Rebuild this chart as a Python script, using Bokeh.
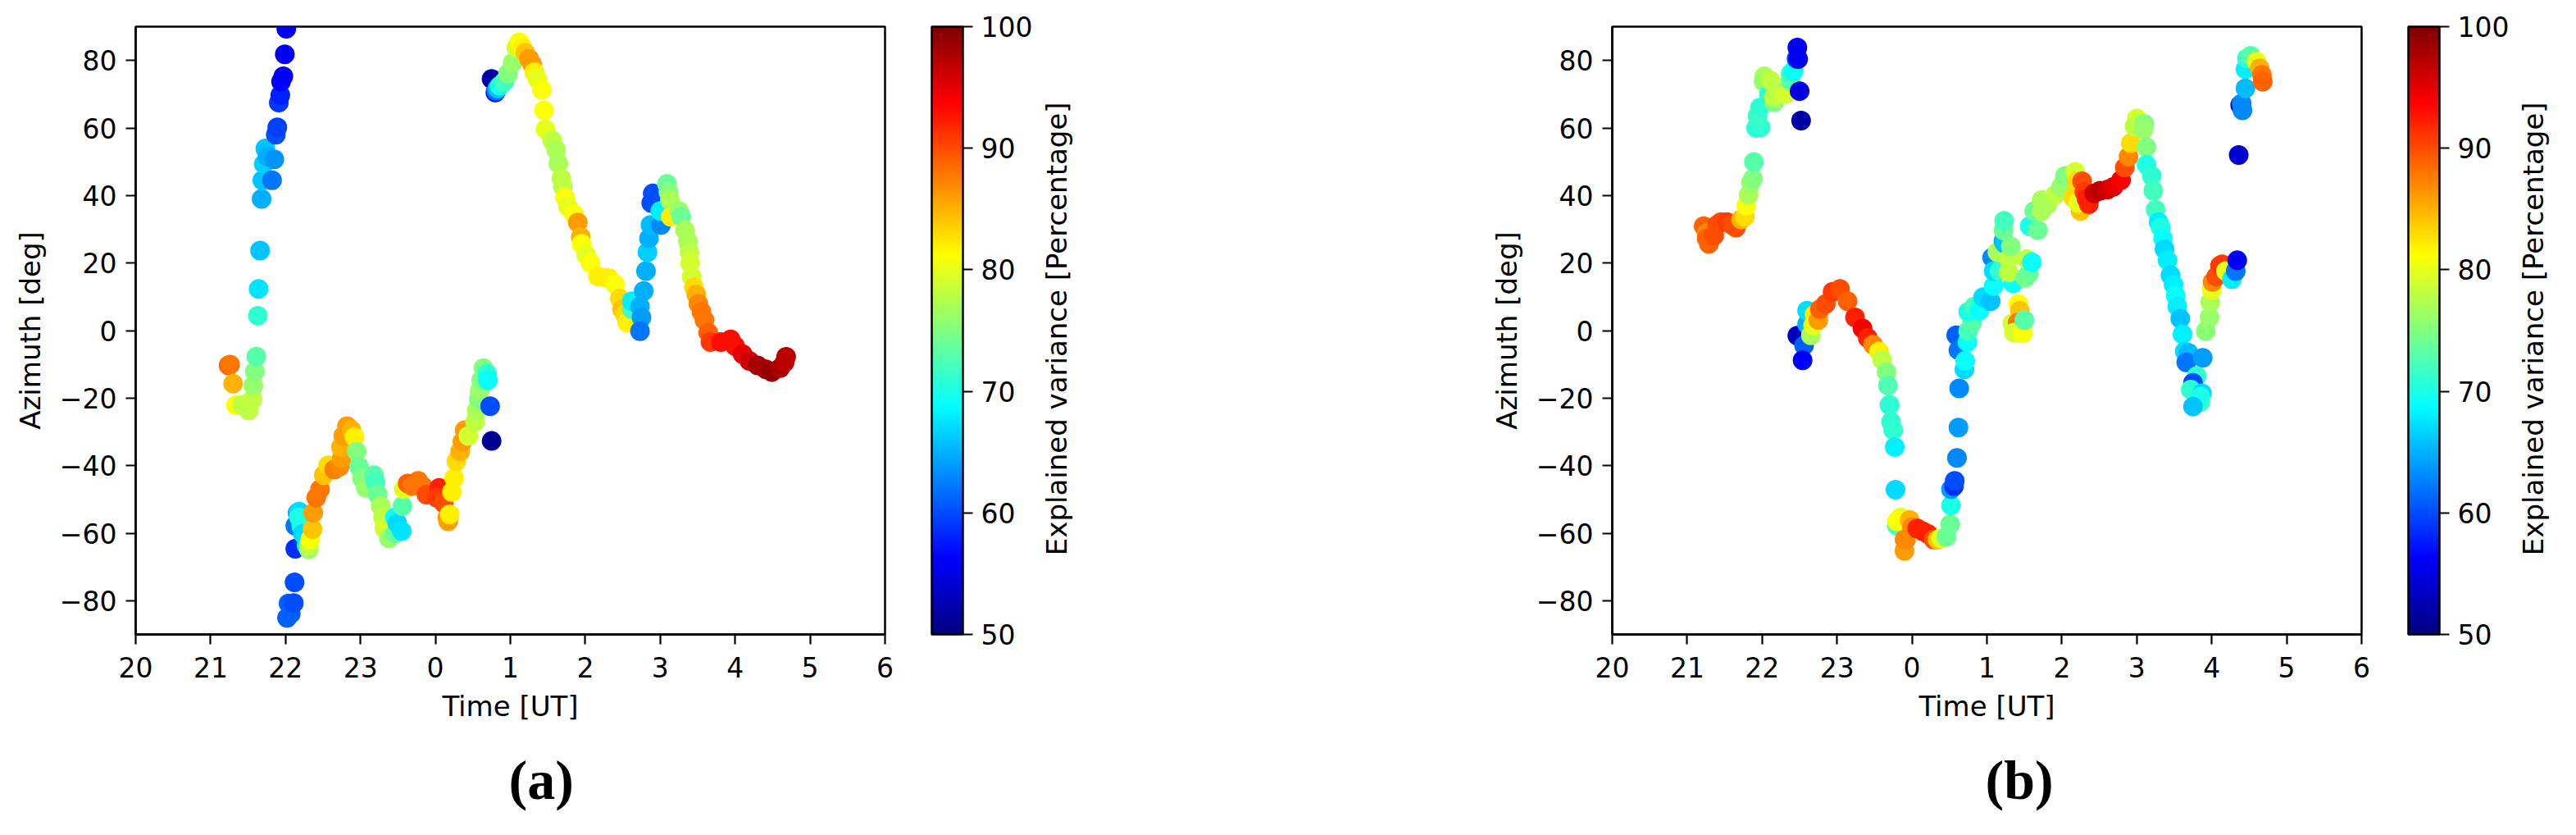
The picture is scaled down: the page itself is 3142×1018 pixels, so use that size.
import math
from bokeh.embed import file_html
from bokeh.layouts import row
from bokeh.models import ColorBar, ColumnDataSource, FixedTicker, LinearAxis, LinearColorMapper, Range1d, Title
from bokeh.plotting import figure
from bokeh.resources import INLINE

# hours relative to midnight UT
time_a = [-2.76,-2.74,-2.70,-2.66,-2.58,-2.49,-2.44,-2.43,-2.41,-2.39,-2.37,-2.36,-2.34,-2.32,-2.31,-2.29,-2.27,-2.24,-2.15,-2.18,-2.13,-2.11,-2.09,-2.07,-2.06,-2.03,-2.01,-1.99,
 -1.98,-1.93,-1.96,-1.89,-1.88,-1.87,-1.87,-1.84,-1.82,-1.82,-1.79,-1.77,-1.72,-1.69,-1.69,-1.67,-1.64,-1.63,-1.59,-1.54,-1.49,-1.43,-1.35,-1.28,-1.25,-1.26,-1.23,-1.18,-1.12,-1.08,-1.05,-1.02,-0.98,-0.93,-0.82,-0.80,-0.77,-0.73,-0.70,-0.68,-0.62,-0.54,-0.54,-0.51,-0.45,-0.44,-0.42,-0.37,-0.31,-0.23,-0.17,-0.12,0.05,0.02,0.11,0.16,0.17,0.19,0.22,0.25,0.28,0.33,0.36,0.39,0.44,0.53,0.55,0.58,0.59,0.61,0.64,0.69,0.70,0.73,0.75,
 0.75,0.80,0.81,0.83,0.86,0.92,0.97,1.03,1.08,1.12,1.16,1.20,1.25,1.29,1.32,1.36,1.42,1.45,1.47,1.56,1.61,1.64,1.68,1.70,1.73,1.77,1.85,1.90,1.94,1.95,2.01,2.07,2.17,2.28,2.31,2.40,2.46,2.49,2.53,2.56,2.62,2.62,2.73,2.75,2.73,2.78,2.81,2.83,2.85,2.87,2.88,2.90,3.01,3.00,3.09,3.11,3.13,3.14,3.25,3.28,3.33,3.37,3.39,3.40,3.42,3.45,3.48,3.51,3.55,3.59,3.64,3.67,3.81,3.94,4.00,4.10,4.19,4.30,4.41,4.49,4.60,4.66,4.68]
azimuth_a = [-10.3,-10.1,-15.7,-22.1,-22.0,-23.7,-20.4,-16.3,-12.1,-7.7,4.4,12.3,23.7,39.0,44.5,49.3,53.9,51.5,50.7,44.5,58.0,60.2,67.5,69.7,73.7,75.3,81.8,89.4,
 -85.1,-83.9,-80.8,-80.7,-74.6,-64.6,-57.8,-54.0,-53.6,-55.3,-57.8,-60.2,-63.6,-64.8,-63.8,-61.9,-58.8,-54.0,-49.5,-47.0,-42.8,-39.9,-41.2,-40.3,-37.8,-34.5,-31.2,-28.3,-29.5,-31.6,-35.8,-40.3,-43.7,-46.6,-42.8,-44.9,-48.6,-52.0,-55.3,-58.6,-61.5,-60.2,-55.3,-57.0,-59.4,-52.0,-47.0,-45.3,-46.1,-44.5,-46.1,-48.6,-46.6,-49.5,-51.1,-55.3,-56.5,-54.4,-47.8,-43.7,-38.7,-35.8,-32.9,-29.5,-31.2,-27.0,-23.7,-20.4,-17.9,-14.7,-11.1,-12.7,-14.7,-22.4,-32.7,
 74.5,70.5,71.0,71.7,72.5,73.7,76.1,79.3,83.8,85.4,83.8,82.2,80.5,78.9,76.5,74.5,71.3,65.2,59.6,56.3,53.5,49.5,45.0,42.6,39.4,36.6,34.5,32.0,27.7,25.7,22.4,20.0,16.0,15.6,15.6,13.6,9.5,6.3,4.7,2.3,6.3,8.7,7.1,3.9,-0.2,11.7,17.6,23.2,27.3,31.3,37.8,40.6,31.3,35.4,43.4,41.0,38.6,33.7,35.4,33.7,29.7,26.5,23.2,20.0,16.0,12.8,10.7,7.9,5.5,3.1,-0.6,-3.4,-3.4,-2.6,-4.6,-7.0,-9.0,-10.3,-11.5,-12.3,-11.1,-9.4,-7.8]
variance_a = [89,88,85,81,78,78,78,76,75,73,71,67.5,66,65,66,66.5,66,65,63.5,62,60,59.5,59,58,56,56,56,56,
 61,61,61,60,60,58.5,62,65,67,70,70,67,68,76,78,81,84,86,88,88,84,83,87.5,87,86,85,86,86,85,82,75,74,75,76,73,72,74,77,78,79,76,74,69,67,67.5,73,80,89,88,88,88,90,92,91,90,87,86,82,82,82,83,85,86,86,79,78,77,75,76,75,75,71,69,60,51,
 52,57,62,66,70,72,75,76,79,81,82,84,86,86,82,80,81,81,80,78,77,77,78,78,81,80,81,86,85,81,80,81,82,82,82,81,83,84,83,82,72,68,65,64,62,65,65,66.5,65,65.5,60,60,63,68,74,75,77,82,76,74,77,77,78,79,79,83,85,87,88,88,89,91,93,93,93,95,96,98,98,99,98,97,97]

time_b = [-2.77,-2.78,-2.74,-2.74,-2.71,-2.64,-2.60,-2.55,-2.47,-2.40,-2.35,-2.28,-2.23,-2.21,-2.18,-2.15,-2.12,-2.11,-2.08,-2.02,-2.06,-2.03,-1.97,-1.98,-1.89,-1.86,-1.91,-1.84,-1.89,-1.84,-1.69,-1.62,-1.62,-1.58,-1.54,-1.52,-1.53,-1.50,-1.48,
 -1.53,-1.44,-1.46,-1.40,-1.40,-1.35,-1.32,-1.30,-1.25,-1.23,-1.15,-1.06,-0.96,-0.86,-0.76,-0.66,-0.59,-0.52,-0.44,-0.40,-0.34,-0.32,-0.30,-0.30,-0.28,-0.25,-0.23,-0.22,-0.20,-0.15,-0.20,-0.10,-0.08,-0.10,-0.03,0.00,0.07,0.14,0.21,0.29,0.34,0.39,0.46,0.51,0.52,0.52,0.56,0.57,0.60,0.62,
 0.63,0.59,0.62,0.70,0.71,0.74,0.75,0.80,0.75,0.83,0.90,0.95,1.05,1.09,1.35,1.07,1.09,1.17,1.29,1.14,1.22,1.24,1.22,1.23,1.29,1.32,1.51,1.56,1.53,1.60,1.34,1.42,1.44,1.41,1.36,1.48,1.50,
 1.57,1.68,1.63,1.73,1.81,1.73,1.91,1.99,2.04,2.18,2.20,2.15,2.25,2.22,2.27,2.30,2.36,2.33,2.43,2.51,2.61,2.69,2.79,2.84,2.89,2.92,3.00,2.97,3.10,3.09,3.13,3.13,3.20,3.22,3.25,3.29,3.32,3.35,3.37,3.41,3.45,3.49,3.52,3.54,3.58,3.61,3.64,3.69,3.66,3.88,3.80,3.75,3.72,3.87,3.85,3.85,3.75,
 3.92,3.97,3.98,4.00,4.01,4.06,4.11,4.14,4.19,4.27,4.32,4.34,4.36,4.38,4.41,4.40,4.45,4.45,4.47,4.52,4.60,4.64,4.67,4.68]
azimuth_b = [30.7,30.9,28.9,27.3,25.7,28.1,31.3,32.1,32.1,31.3,30.5,32.9,33.7,37.0,40.2,43.8,45.0,49.9,60.0,60.2,63.6,66.0,75.3,73.7,73.3,71.7,70.0,67.6,74.1,69.2,70.0,74.1,76.1,76.9,80.5,80.4,83.8,70.9,62.2,
 -1.5,-4.4,-8.8,1.9,5.9,-1.4,1.5,4.7,3.1,6.3,7.9,11.5,12.3,8.7,3.9,0.6,-2.2,-4.2,-6.2,-8.6,-12.3,-16.3,-22.0,-22.1,-27.0,-29.5,-34.5,-47.1,-57.8,-55.3,-56.5,-65.2,-61.9,-61.9,-56.1,-58.2,-58.6,-59.4,-60.2,-61.9,-61.9,-61.5,-61.1,-57.4,-51.8,-47.0,-46.1,-44.5,-37.7,-28.7,
 -17.1,-1.4,-5.8,-11.5,-9.0,-3.4,-0.2,2.3,5.5,7.1,5.9,9.9,8.7,13.2,14.0,21.6,17.6,17.6,17.2,23.2,26.5,25.7,29.7,32.5,21.2,24.9,15.6,16.8,21.2,20.2,2.1,7.9,5.9,2.3,-0.6,-0.8,3.1,
 30.9,29.7,35.4,35.4,37.4,38.6,40.2,42.6,45.8,47.0,44.2,39.4,35.4,37.8,44.2,41.0,37.4,39.0,40.6,41.4,41.8,42.6,44.6,48.3,51.5,55.5,62.8,60.4,61.2,59.6,54.3,49.1,45.8,41.4,35.8,32.1,30.5,27.3,24.1,20.8,16.4,13.6,10.3,7.1,3.5,-1.1,-6.2,-6.6,-9.4,-8.1,-13.5,-15.5,-17.5,-18.6,-21.2,-19.6,-22.5,
 -0.2,3.9,8.4,12.0,14.4,16.0,19.2,19.6,17.6,15.2,17.6,20.8,52.0,66.8,65.2,67.2,71.7,77.4,80.6,81.4,79.7,77.7,75.7,73.7]
variance_b = [90,89,87,89,89,90,90,90,91,90,90,85,83,81,77,76,75,73,71,71,71.5,71,77,76,76,75,71,75,78,78,79,73,72,69,60,55.5,56,55,52,
 53,61,56,65,67,77,80,82,86,89,90,91,90,89,92,94,92,87,82,78,75,72.5,71,71,71,71,68,67,72,80,81,86,87,87,85,87,92,92,92,90,84,80,74,74,70,64,58.5,60,63,64,
 63,61,62,67,69,69,72,73,70,72,69,67,66,69,69,63,67,71,78,77,65,66,74,72,78,75,74.5,74,78,69,79,81,84,88,79,81,73,
 70,74,74,77,77,77,78,76,75,79,83,83,84,80,90,91,92,92,96,97,96,95,94,90,87,83,79,78,75,76,75,70,71,72,72,68,70,69,67,68,67,68,69,68,66,68,67,65.5,62,64,71,60,71,67,72,70,66,
 75.5,76,77,80,87,90,91,91,80,68,62,56,54,56,63,63,65.5,68,71,73,80,85,88,89]

hour_ticks = [-4,-3,-2,-1,0,1,2,3,4,5,6]
hour_labels = ["20","21","22","23","0","1","2","3","4","5","6"]
azimuth_ticks = [-80,-60,-40,-20,0,20,40,60,80]
variance_ticks = [50,60,70,80,90,100]
CB_TITLE = "Explained variance [Percentage]"


def jet(n=256):
    out = []
    for i in range(n):
        v = i / (n - 1)
        r = min(max(min(4 * v - 1.5, -4 * v + 4.5), 0), 1)
        g = min(max(min(4 * v - 0.5, -4 * v + 3.5), 0), 1)
        b = min(max(min(4 * v + 0.5, -4 * v + 2.5), 0), 1)
        out.append("#%02x%02x%02x" % (round(r * 255), round(g * 255), round(b * 255)))
    return out


def panel(t, az, var, letter, width, left, frame_w, cb_gap, cb_w):
    H = 1018
    p = figure(width=width, height=H, output_backend="svg", toolbar_location=None,
               x_range=Range1d(-4, 6), y_range=Range1d(-90, 90),
               min_border_left=left, min_border_top=32, min_border_bottom=H - 32 - 741,
               min_border_right=width - left - frame_w)
    p.grid.visible = False
    p.outline_line_color = "black"
    p.outline_line_width = 2.5
    for ax in (p.xaxis[0], p.yaxis[0]):
        ax.axis_line_width = 2.5
        ax.major_tick_line_width = 2.2
        ax.major_tick_out = 12
        ax.major_tick_in = 0
        ax.minor_tick_line_color = None
        ax.major_label_text_font = "DejaVu Sans"
        ax.major_label_text_font_size = "33px"
        ax.major_label_text_color = "black"
        ax.axis_label_text_font = "DejaVu Sans"
        ax.axis_label_text_font_size = "34px"
        ax.axis_label_text_font_style = "normal"
        ax.axis_label_text_color = "black"
    p.xaxis[0].ticker = FixedTicker(ticks=hour_ticks)
    p.xaxis[0].major_label_overrides = dict(zip(hour_ticks, hour_labels))
    p.xaxis[0].axis_label = "Time [UT]"
    p.xaxis[0].major_label_standoff = 15
    p.xaxis[0].axis_label_standoff = 12
    p.yaxis[0].ticker = FixedTicker(ticks=azimuth_ticks)
    p.yaxis[0].major_label_overrides = {v: str(v).replace("-", "\u2212") for v in azimuth_ticks}
    p.yaxis[0].axis_label = "Azimuth [deg]"
    p.yaxis[0].major_label_standoff = 11
    p.yaxis[0].axis_label_standoff = 13

    mapper = LinearColorMapper(palette=jet(), low=50, high=100)
    src = ColumnDataSource(dict(x=t, y=az, v=var))
    p.scatter("x", "y", source=src, size=24, line_color=None,
              fill_color={"field": "v", "transform": mapper})

    cb = ColorBar(color_mapper=mapper, width=cb_w, height=741, padding=0, margin=0,
                  location=(frame_w + cb_gap, 0),
                  ticker=FixedTicker(ticks=variance_ticks),
                  major_tick_in=0, major_tick_out=12, major_tick_line_color="black", major_tick_line_width=2.2,
                  bar_line_color="black", bar_line_width=2.5,
                  minor_tick_line_color=None, label_standoff=10,
                  major_label_text_font="DejaVu Sans", major_label_text_font_size="33px",
                  major_label_text_color="black")
    p.add_layout(cb, "center")

    # rotated colour bar caption: the single tick label of an otherwise invisible axis
    p.extra_y_ranges = {"cb": Range1d(50, 100)}
    title_axis = LinearAxis(y_range_name="cb", ticker=FixedTicker(ticks=[56.5]),
                            major_label_overrides={56.5: CB_TITLE},
                            major_label_orientation=math.pi / 2, major_label_standoff=204,
                            axis_line_color=None, major_tick_line_color=None, minor_tick_line_color=None,
                            major_label_text_font="DejaVu Sans", major_label_text_font_size="34px",
                            major_label_text_color="black")
    p.add_layout(title_axis, "right")

    p.add_layout(Title(text=letter, align="left", offset=455, standoff=54,
                       text_font="Liberation Serif", text_font_size="68px",
                       text_font_style="bold", text_color="black"), "below")
    return p


a = panel(time_a, azimuth_a, variance_a, "(a)", 1508, 165, 914, 57, 38)
b = panel(time_b, azimuth_b, variance_b, "(b)", 1626, 458, 914, 57, 38)
page = row(a, b)
open("out.html", "w").write(file_html(page, INLINE))
